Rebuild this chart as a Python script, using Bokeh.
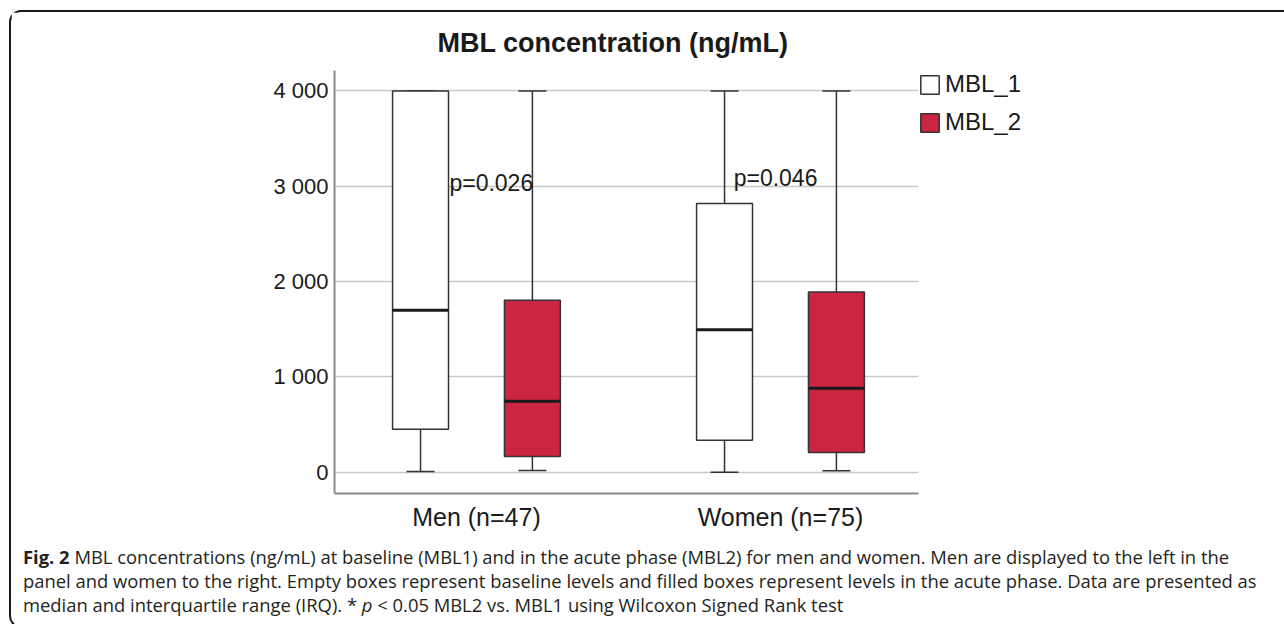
from bokeh.plotting import figure
from bokeh.layouts import column
from bokeh.models import (Range1d, FixedTicker, Label, Legend, LegendItem, Div)
from bokeh.embed import file_html
from bokeh.resources import INLINE

# ---------------- data ----------------
groups = ["Men (n=47)", "Women (n=75)"]
series = ["MBL_1", "MBL_2"]
series_colors = ["#ffffff", "#cb2641"]

mbl1_low = [8, 0]
mbl1_q1 = [450, 335]
mbl1_median = [1700, 1495]
mbl1_q3 = [4000, 2820]
mbl1_high = [4000, 4000]

mbl2_low = [18, 15]
mbl2_q1 = [165, 205]
mbl2_median = [745, 880]
mbl2_q3 = [1805, 1890]
mbl2_high = [4000, 4000]

y_ticks = [0, 1000, 2000, 3000, 4000]
y_tick_labels = ["0", "1 000", "2 000", "3 000", "4 000"]

p_texts = ["p=0.026", "p=0.046"]
p_x = [0.911, 1.846]
p_y = [3030, 3082]

title_text = "MBL concentration (ng/mL)"
caption_html = (
    "<b>Fig. 2</b> MBL concentrations (ng/mL) at baseline (MBL1) and in the acute phase (MBL2) "
    "for men and women. Men are displayed to the left in the<br>"
    "panel and women to the right. Empty boxes represent baseline levels and filled boxes "
    "represent levels in the acute phase. Data are presented as<br>"
    "median and interquartile range (IRQ). * <i>p</i> &lt; 0.05 MBL2 vs. MBL1 using "
    "Wilcoxon Signed Rank test"
)

# ---------------- style constants ----------------
FONT = "Liberation Sans"
TXT = "#1a1a1a"
LINE = "#333333"

centers = [i + 1 for i in range(len(groups))]
offset = 0.184
box_w = 0.184
cap_w = 0.092

p = figure(frame_width=584, frame_height=423,
           x_range=Range1d(0.533, 2.454), y_range=Range1d(-224, 4215),
           output_backend="svg", toolbar_location=None, tools="",
           min_border_left=323, min_border_right=0, min_border_top=58, min_border_bottom=47)
p.outline_line_color = None
p.background_fill_color = "white"
p.border_fill_color = "white"

# title
p.title.text = title_text
p.title.align = "left"
p.title.offset = 103
p.title.text_font = FONT
p.title.text_font_size = "27px"
p.title.text_font_style = "bold"
p.title.text_color = TXT
p.title.standoff = 26

# axes
p.xaxis.ticker = FixedTicker(ticks=centers)
p.xaxis.major_label_overrides = {c: g for c, g in zip(centers, groups)}
p.yaxis.ticker = FixedTicker(ticks=y_ticks)
p.yaxis.major_label_overrides = {t: l for t, l in zip(y_ticks, y_tick_labels)}
for ax in (p.xaxis, p.yaxis):
    ax.major_tick_line_color = None
    ax.minor_tick_line_color = None
    ax.major_tick_out = 0
    ax.axis_line_color = "#8a8a8a"
    ax.axis_line_width = 2
    ax.major_label_text_font = FONT
    ax.major_label_text_color = TXT
p.xaxis.major_label_text_font_size = "25px"
p.xaxis.major_label_standoff = 9
p.yaxis.major_label_text_font_size = "22px"
p.yaxis.major_label_standoff = 6

p.xgrid.visible = False
p.ygrid.ticker = FixedTicker(ticks=y_ticks)
p.ygrid.grid_line_color = "#c8c8c8"
p.ygrid.grid_line_width = 1.5

# boxes
stats = [
    (mbl1_low, mbl1_q1, mbl1_median, mbl1_q3, mbl1_high),
    (mbl2_low, mbl2_q1, mbl2_median, mbl2_q3, mbl2_high),
]
box_renderers = []
for i, (low, q1, med, q3, high) in enumerate(stats):
    sign = -1 if i == 0 else 1
    pos = [c + sign * offset for c in centers]
    p.segment(x0=pos, y0=q3, x1=pos, y1=high, line_color=LINE, line_width=1.5)
    p.segment(x0=pos, y0=q1, x1=pos, y1=low, line_color=LINE, line_width=1.5)
    p.segment(x0=[x - cap_w / 2 for x in pos], y0=high, x1=[x + cap_w / 2 for x in pos], y1=high,
              line_color=LINE, line_width=1.5)
    p.segment(x0=[x - cap_w / 2 for x in pos], y0=low, x1=[x + cap_w / 2 for x in pos], y1=low,
              line_color=LINE, line_width=1.5)
    r = p.vbar(x=pos, width=box_w, bottom=q1, top=q3, fill_color=series_colors[i],
               line_color=LINE, line_width=1.5)
    box_renderers.append(r)
    p.segment(x0=[x - box_w / 2 for x in pos], y0=med, x1=[x + box_w / 2 for x in pos], y1=med,
              line_color="#1a1a1a", line_width=3)

# p-values
for t, x, y in zip(p_texts, p_x, p_y):
    p.add_layout(Label(x=x, y=y, text=t, text_font=FONT, text_font_size="23px",
                       text_color=TXT, text_align="left", text_baseline="alphabetic"))

# legend
legend = Legend(items=[LegendItem(label=s, renderers=[r]) for s, r in zip(series, box_renderers)],
                location="top_left", orientation="vertical", glyph_width=23, glyph_height=23,
                label_height=23, label_text_font=FONT, label_text_font_size="24px",
                label_text_color=TXT, label_standoff=4, spacing=10, padding=4, margin=0,
                border_line_color=None, background_fill_alpha=0)
p.add_layout(legend, "right")

caption = Div(
    text=('<div style="font-family: \'Open Sans\', sans-serif; font-size: 18.4px; '
          'line-height: 24px; color: #231f20; white-space: nowrap; padding: 0 0 0 7px;">'
          + caption_html + '</div>'),
    width=1272, height=76)

layout = column(
    p, caption,
    margin=(10, 0, 0, 9),
    styles={"border-top": "2px solid #1a1a1a", "border-left": "2px solid #1a1a1a",
            "border-bottom": "2px solid #1a1a1a",
            "border-top-left-radius": "12px", "border-bottom-left-radius": "12px",
            "background": "white"},
)

open("out.html", "w").write(file_html(layout, INLINE))
